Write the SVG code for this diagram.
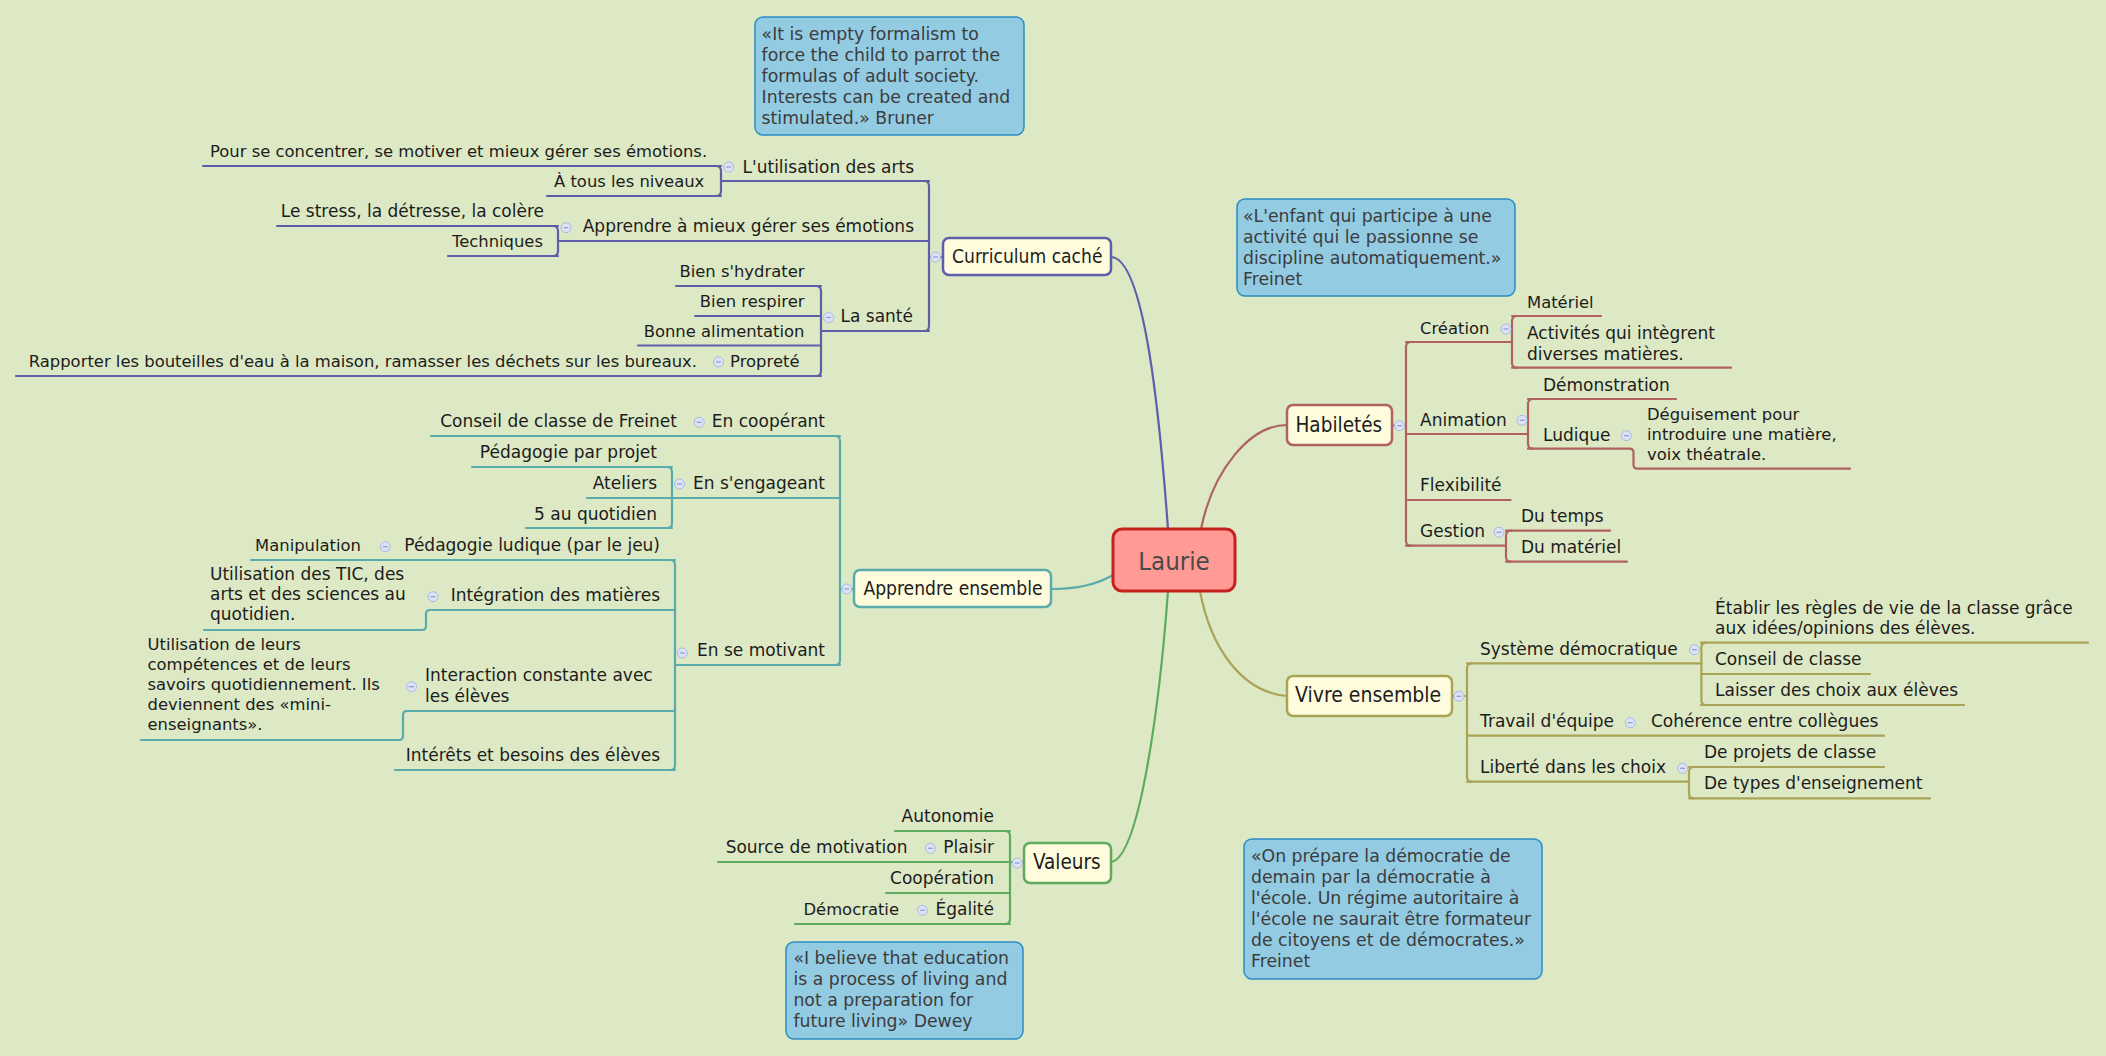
<svg xmlns="http://www.w3.org/2000/svg" width="2106" height="1056" viewBox="0 0 2106 1056">
<style>
text{font-family:"DejaVu Sans",Verdana,sans-serif;fill:#1c1c1c}
.lf{font-size:17px}
.le{font-size:17px;text-anchor:end}
.s{font-size:16.4px}
.q{font-size:17.3px;fill:#3c3c3c}
.mn{font-family:"DejaVu Sans Condensed","DejaVu Sans",sans-serif;font-stretch:condensed;font-size:19.1px}
.mb{font-family:"DejaVu Sans Condensed","DejaVu Sans",sans-serif;font-stretch:condensed;font-size:20.5px}
.ct{font-family:"DejaVu Sans Condensed","DejaVu Sans",sans-serif;font-stretch:condensed;font-size:25.6px;fill:#4a4a4a;text-anchor:middle}
.qb{fill:#93cbe3;stroke:#2c8cc4;stroke-width:1.5}
.nb{fill:#fefcdc;stroke-width:2.5}
.c{fill:none;stroke-width:2.2;stroke-linecap:round;stroke-linejoin:round}
.pu{stroke:#5f5fa9}.te{stroke:#5aabab}.gr{stroke:#5cab5e}.br{stroke:#b06262}.ol{stroke:#aaa456}
</style>
<defs>
<g id="cc"><circle r="5" fill="#dce3f4" stroke="#aab8e4" stroke-width="1"/><path d="M-2.5,0H2.5" stroke="#8b9bd0" stroke-width="1.2"/></g>
</defs>
<rect width="2106" height="1056" fill="#dce9c4"/>

<g id="connectors">
<g class="c pu">
<path d="M1111,257 C1145,258 1160,420 1168,529"/>
<path d="M929,257 H943"/>
<path d="M924,181 Q929,181 929,186 V326 Q929,331 924,331"/>
<path d="M721,181 H929"/>
<path d="M716,166 Q721,166 721,171 V191 Q721,196 716,196"/>
<path d="M203,166 H721"/>
<path d="M547,196 H721"/>
<path d="M558,241 H929"/>
<path d="M553,226 Q558,226 558,231 V251 Q558,256 553,256"/>
<path d="M277,226 H558"/>
<path d="M448,256 H558"/>
<path d="M821,331 H929"/>
<path d="M816,286 Q821,286 821,291 V371 Q821,376 816,376"/>
<path d="M676,286 H821"/>
<path d="M695,316 H821"/>
<path d="M638,345.5 H821"/>
<path d="M16,376 H821"/>
</g>
<g class="c te">
<path d="M1051,589 C1080,589 1098,584 1113,575"/>
<path d="M840,589 H854"/>
<path d="M835,436 Q840,436 840,441 V660 Q840,665 835,665"/>
<path d="M431,436 H840"/>
<path d="M672,498 H840"/>
<path d="M667,467 Q672,467 672,472 V523 Q672,528 667,528"/>
<path d="M472,467 H672"/>
<path d="M587,498 H672"/>
<path d="M526,528 H672"/>
<path d="M675,665 H840"/>
<path d="M670,560 Q675,560 675,565 V765 Q675,770 670,770"/>
<path d="M251,560 H675"/>
<path d="M675,610 H430 Q426,610 426,614 V626 Q426,630 422,630 H204"/>
<path d="M675,711 H407 Q403,711 403,715 V736 Q403,740 399,740 H141"/>
<path d="M395,770 H675"/>
</g>
<g class="c gr">
<path d="M1111,862 C1140,858 1160,700 1168,591"/>
<path d="M1010,862 H1024"/>
<path d="M1005,831 Q1010,831 1010,836 V919 Q1010,924 1005,924"/>
<path d="M895,831 H1010"/>
<path d="M718,862 H1010"/>
<path d="M886,893 H1010"/>
<path d="M795,924 H1010"/>
</g>
<g class="c br">
<path d="M1287,425 C1250,425 1213,470 1201,529"/>
<path d="M1392,425.5 H1406"/>
<path d="M1411,342 Q1406,342 1406,347 V540.7 Q1406,545.7 1411,545.7"/>
<path d="M1406,342 H1512"/>
<path d="M1517,316 Q1512,316 1512,321 V362.7 Q1512,367.7 1517,367.7"/>
<path d="M1512,316 H1601"/>
<path d="M1512,367.7 H1731"/>
<path d="M1406,434 H1528"/>
<path d="M1533,399 Q1528,399 1528,404 V443.7 Q1528,448.7 1533,448.7"/>
<path d="M1528,399 H1676"/>
<path d="M1528,448.7 H1629.5 Q1633.5,448.7 1633.5,452.7 V464.7 Q1633.5,468.7 1637.5,468.7 H1850"/>
<path d="M1406,500 H1510.6"/>
<path d="M1406,545.7 H1506"/>
<path d="M1511,530.7 Q1506,530.7 1506,535.7 V556.7 Q1506,561.7 1511,561.7"/>
<path d="M1506,530.7 H1610"/>
<path d="M1506,561.7 H1627"/>
</g>
<g class="c ol">
<path d="M1287,696 C1240,692 1210,645 1200,591"/>
<path d="M1452,696 H1467"/>
<path d="M1472,663.3 Q1467,663.3 1467,668.3 V776.7 Q1467,781.7 1472,781.7"/>
<path d="M1467,663.3 H1701.4"/>
<path d="M1706,642.7 Q1701.4,642.7 1701.4,647.7 V700 Q1701.4,705 1706,705"/>
<path d="M1701,642.7 H2088"/>
<path d="M1701,674 H1870"/>
<path d="M1701,705 H1964"/>
<path d="M1467,735.7 H1884"/>
<path d="M1467,781.7 H1689"/>
<path d="M1694,767 Q1689,767 1689,772 V793.3 Q1689,798.3 1694,798.3"/>
<path d="M1689,767 H1884"/>
<path d="M1689,798.3 H1930"/>
</g>
</g>

<g id="laurie">
<rect x="1113" y="529" width="122" height="62" rx="9" fill="#ff9a94" stroke="#c8201e" stroke-width="3"/>
<text class="ct" x="1174" y="569.5">Laurie</text>
</g>

<g id="curriculum">
<rect class="nb pu" x="943" y="238" width="168" height="37" rx="6"/>
<text class="mn" x="952" y="263">Curriculum caché</text>
<use href="#cc" x="935.7" y="257"/>
</g>
<g id="utilisation-arts">
<text class="le" x="914" y="172.5">L'utilisation des arts</text>
<use href="#cc" x="728.6" y="167"/>
</g>
<g id="pour-se-concentrer"><text class="lf s" x="210" y="157">Pour se concentrer, se motiver et mieux gérer ses émotions.</text></g>
<g id="tous-niveaux"><text class="lf s" x="554" y="187">À tous les niveaux</text></g>
<g id="apprendre-gerer">
<text class="le" x="914" y="232">Apprendre à mieux gérer ses émotions</text>
<use href="#cc" x="566" y="227.7"/>
</g>
<g id="stress"><text class="le" x="544" y="217">Le stress, la détresse, la colère</text></g>
<g id="techniques"><text class="le s" x="543" y="247">Techniques</text></g>
<g id="sante">
<text class="le" x="913" y="322">La santé</text>
<use href="#cc" x="828.6" y="317.5"/>
</g>
<g id="hydrater"><text class="le s" x="804.5" y="277">Bien s'hydrater</text></g>
<g id="respirer"><text class="le s" x="804.5" y="307">Bien respirer</text></g>
<g id="alimentation"><text class="le s" x="804.5" y="336.5">Bonne alimentation</text></g>
<g id="proprete">
<text class="le s" x="799.5" y="367">Propreté</text>
<use href="#cc" x="718.5" y="362"/>
</g>
<g id="rapporter"><text class="le s" x="697" y="367">Rapporter les bouteilles d'eau à la maison, ramasser les déchets sur les bureaux.</text></g>

<g id="apprendre-ensemble">
<rect class="nb te" x="854" y="570" width="197" height="37" rx="6"/>
<text class="mn" x="863.4" y="594.5">Apprendre ensemble</text>
<use href="#cc" x="846.8" y="589"/>
</g>
<g id="cooperant">
<text class="le" x="825" y="427">En coopérant</text>
<use href="#cc" x="699.3" y="422.3"/>
</g>
<g id="conseil-freinet"><text class="le" x="677" y="427">Conseil de classe de Freinet</text></g>
<g id="engageant">
<text class="le" x="825" y="489">En s'engageant</text>
<use href="#cc" x="679.5" y="484"/>
</g>
<g id="projet"><text class="le" x="657" y="458">Pédagogie par projet</text></g>
<g id="ateliers"><text class="le" x="657" y="489">Ateliers</text></g>
<g id="cinq-quotidien"><text class="le" x="657" y="519.5">5 au quotidien</text></g>
<g id="motivant">
<text class="le" x="825" y="656">En se motivant</text>
<use href="#cc" x="682.3" y="653"/>
</g>
<g id="ludique-jeu">
<text class="le" x="660" y="551">Pédagogie ludique (par le jeu)</text>
<use href="#cc" x="385.2" y="546.7"/>
</g>
<g id="manipulation"><text class="le s" x="361" y="551">Manipulation</text></g>
<g id="integration">
<text class="le" x="660" y="601">Intégration des matières</text>
<use href="#cc" x="433" y="596.7"/>
</g>
<g id="tic"><text class="lf"><tspan x="210" y="580">Utilisation des TIC, des</tspan><tspan x="210" y="600">arts et des sciences au</tspan><tspan x="210" y="620">quotidien.</tspan></text></g>
<g id="interaction">
<text class="lf"><tspan x="425" y="681">Interaction constante avec</tspan><tspan x="425" y="701.5">les élèves</tspan></text>
<use href="#cc" x="411.5" y="686.7"/>
</g>
<g id="competences"><text class="lf s"><tspan x="147.5" y="650">Utilisation de leurs</tspan><tspan x="147.5" y="670">compétences et de leurs</tspan><tspan x="147.5" y="690">savoirs quotidiennement. Ils</tspan><tspan x="147.5" y="710">deviennent des «mini-</tspan><tspan x="147.5" y="730">enseignants».</tspan></text></g>
<g id="interets"><text class="le" x="660" y="761">Intérêts et besoins des élèves</text></g>

<g id="valeurs">
<rect class="nb gr" x="1024" y="843" width="87" height="40" rx="6"/>
<text class="mb" x="1033" y="869">Valeurs</text>
<use href="#cc" x="1017.3" y="863"/>
</g>
<g id="autonomie"><text class="le" x="994" y="822">Autonomie</text></g>
<g id="plaisir">
<text class="le" x="994" y="853">Plaisir</text>
<use href="#cc" x="930.4" y="848.3"/>
</g>
<g id="source-motivation"><text class="le" x="907.5" y="853">Source de motivation</text></g>
<g id="cooperation"><text class="le" x="994" y="884">Coopération</text></g>
<g id="egalite">
<text class="le" x="994" y="915">Égalité</text>
<use href="#cc" x="922.3" y="910.3"/>
</g>
<g id="democratie"><text class="le s" x="899" y="915">Démocratie</text></g>

<g id="habiletes">
<rect class="nb br" x="1287" y="405" width="105" height="40" rx="6"/>
<text class="mb" x="1295.5" y="432">Habiletés</text>
<use href="#cc" x="1399.5" y="425.7"/>
</g>
<g id="creation">
<text class="lf s" x="1420" y="333.5">Création</text>
<use href="#cc" x="1506" y="329"/>
</g>
<g id="materiel"><text class="lf s" x="1527" y="307.5">Matériel</text></g>
<g id="activites"><text class="lf"><tspan x="1527" y="339">Activités qui intègrent</tspan><tspan x="1527" y="359.5">diverses matières.</tspan></text></g>
<g id="animation">
<text class="lf" x="1420" y="425.5">Animation</text>
<use href="#cc" x="1522" y="420.3"/>
</g>
<g id="demonstration"><text class="lf" x="1543" y="390.5">Démonstration</text></g>
<g id="ludique">
<text class="lf" x="1543" y="441">Ludique</text>
<use href="#cc" x="1626.3" y="435.7"/>
</g>
<g id="deguisement"><text class="lf s"><tspan x="1647" y="420">Déguisement pour</tspan><tspan x="1647" y="440">introduire une matière,</tspan><tspan x="1647" y="460">voix théatrale.</tspan></text></g>
<g id="flexibilite"><text class="lf" x="1420" y="491">Flexibilité</text></g>
<g id="gestion">
<text class="lf" x="1420" y="537">Gestion</text>
<use href="#cc" x="1499" y="532.3"/>
</g>
<g id="du-temps"><text class="lf" x="1521" y="522">Du temps</text></g>
<g id="du-materiel"><text class="lf" x="1521" y="553">Du matériel</text></g>

<g id="vivre-ensemble">
<rect class="nb ol" x="1287" y="676" width="165" height="40" rx="6"/>
<text class="mb" x="1295" y="702" style="font-size:21px">Vivre ensemble</text>
<use href="#cc" x="1459" y="696.3"/>
</g>
<g id="systeme">
<text class="lf" x="1480" y="654.5">Système démocratique</text>
<use href="#cc" x="1694.4" y="649.7"/>
</g>
<g id="etablir"><text class="lf"><tspan x="1715" y="613.5">Établir les règles de vie de la classe grâce</tspan><tspan x="1715" y="634">aux idées/opinions des élèves.</tspan></text></g>
<g id="conseil-classe"><text class="lf" x="1715" y="665">Conseil de classe</text></g>
<g id="laisser"><text class="lf" x="1715" y="696">Laisser des choix aux élèves</text></g>
<g id="travail">
<text class="lf" x="1480" y="727">Travail d'équipe</text>
<use href="#cc" x="1630.2" y="722.7"/>
</g>
<g id="coherence"><text class="lf" x="1651" y="727">Cohérence entre collègues</text></g>
<g id="liberte">
<text class="lf" x="1480" y="773">Liberté dans les choix</text>
<use href="#cc" x="1682.6" y="768.3"/>
</g>
<g id="projets-classe"><text class="lf" x="1704" y="758">De projets de classe</text></g>
<g id="types-enseignement"><text class="lf" x="1704" y="789">De types d'enseignement</text></g>

<g id="quote-bruner">
<rect class="qb" x="755" y="17" width="269" height="118" rx="8"/>
<text class="q"><tspan x="761.6" y="40">«It is empty formalism to</tspan><tspan x="761.6" y="61">force the child to parrot the</tspan><tspan x="761.6" y="82">formulas of adult society.</tspan><tspan x="761.6" y="103">Interests can be created and</tspan><tspan x="761.6" y="124">stimulated.» Bruner</tspan></text>
</g>
<g id="quote-freinet-1">
<rect class="qb" x="1237" y="199" width="278" height="97" rx="8"/>
<text class="q"><tspan x="1243" y="222">«L'enfant qui participe à une</tspan><tspan x="1243" y="243">activité qui le passionne se</tspan><tspan x="1243" y="264">discipline automatiquement.»</tspan><tspan x="1243" y="285">Freinet</tspan></text>
</g>
<g id="quote-freinet-2">
<rect class="qb" x="1244" y="839" width="298" height="140" rx="8"/>
<text class="q"><tspan x="1251" y="862">«On prépare la démocratie de</tspan><tspan x="1251" y="883">demain par la démocratie à</tspan><tspan x="1251" y="904">l'école. Un régime autoritaire à</tspan><tspan x="1251" y="925">l'école ne saurait être formateur</tspan><tspan x="1251" y="946">de citoyens et de démocrates.»</tspan><tspan x="1251" y="967">Freinet</tspan></text>
</g>
<g id="quote-dewey">
<rect class="qb" x="786" y="942" width="237" height="97" rx="8"/>
<text class="q"><tspan x="793.4" y="964">«I believe that education</tspan><tspan x="793.4" y="985">is a process of living and</tspan><tspan x="793.4" y="1006">not a preparation for</tspan><tspan x="793.4" y="1027">future living» Dewey</tspan></text>
</g>
</svg>
